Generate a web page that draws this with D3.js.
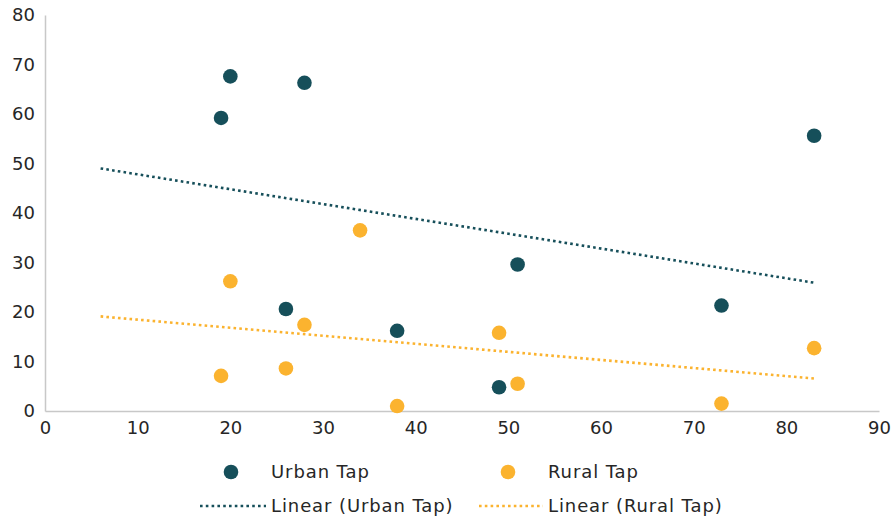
<!DOCTYPE html>
<html>
<head>
<meta charset="utf-8">
<script src="https://cdn.jsdelivr.net/npm/d3@7/dist/d3.min.js"></script>
<style>
  body { margin: 0; background: #fff; }
  svg { display: block; font-family: "DejaVu Sans", sans-serif; }
</style>
</head>
<body>
<svg id="chart" width="894" height="522"></svg>
<script>
// Survey points: x and y values for each series
const urbanX = [19, 20, 28, 26, 38, 49, 51, 73, 83];
const urbanY = [59.2, 67.6, 66.3, 20.6, 16.2, 4.8, 29.6, 21.3, 55.6];
const ruralX = [19, 20, 26, 28, 34, 38, 49, 51, 73, 83];
const ruralY = [7.1, 26.2, 8.6, 17.4, 36.5, 1.0, 15.8, 5.5, 1.5, 12.7];

const xTicks = [0, 10, 20, 30, 40, 50, 60, 70, 80, 90];
const yTicks = [0, 10, 20, 30, 40, 50, 60, 70, 80];
const seriesNames = ["Urban Tap", "Rural Tap"];
const trendNames = ["Linear (Urban Tap)", "Linear (Rural Tap)"];
const trendStart = 6; // trendlines are projected backwards to this x

const colors = { urban: "#164f5a", rural: "#fbb32f" };
const fontStack = "'DejaVu Sans', sans-serif";

const svg = d3.select("#chart");
const margin = { left: 45, right: 15, top: 15, bottom: 111 };
const W = 894, H = 522;

const x = d3.scaleLinear().domain([0, 90]).range([margin.left, W - margin.right]);
const y = d3.scaleLinear().domain([0, 80]).range([H - margin.bottom, margin.top]);

const textColor = "#262626";
const axisColor = "#c8c8c8";

// Axes (no tick marks, just labels and a light line)
const xAxis = svg.append("g")
  .attr("transform", `translate(0,${y(0)})`)
  .call(d3.axisBottom(x).tickValues(xTicks).tickSize(0).tickPadding(10));
const yAxis = svg.append("g")
  .attr("transform", `translate(${x(0)},0)`)
  .call(d3.axisLeft(y).tickValues(yTicks).tickSize(0).tickPadding(10));
[xAxis, yAxis].forEach(a => {
  a.select(".domain").attr("stroke", axisColor).attr("stroke-width", 1.5);
  a.selectAll("text").attr("fill", textColor).style("font-size", "18px")
    .style("font-family", fontStack);
});

// Least-squares linear fit
function fit(xs, ys) {
  const mx = d3.mean(xs), my = d3.mean(ys);
  let sxy = 0, sxx = 0;
  xs.forEach((v, i) => { sxy += (v - mx) * (ys[i] - my); sxx += (v - mx) ** 2; });
  const b = sxy / sxx;
  return v => my + b * (v - mx);
}

const line = d3.line().x(d => x(d[0])).y(d => y(d[1]));
function trend(xs, ys, color) {
  const f = fit(xs, ys);
  const x1 = d3.max(xs);
  svg.append("path")
    .datum([[trendStart, f(trendStart)], [x1, f(x1)]])
    .attr("d", line)
    .attr("fill", "none")
    .attr("stroke", color)
    .attr("stroke-width", 2.6)
    .attr("stroke-dasharray", "2.6 3.2");
}
trend(urbanX, urbanY, colors.urban);
trend(ruralX, ruralY, colors.rural);

function points(xs, ys, color) {
  svg.append("g").selectAll("circle")
    .data(xs.map((v, i) => [v, ys[i]]))
    .join("circle")
    .attr("cx", d => x(d[0]))
    .attr("cy", d => y(d[1]))
    .attr("r", 7.3)
    .attr("fill", color);
}
points(urbanX, urbanY, colors.urban);
points(ruralX, ruralY, colors.rural);

// Legend
const legend = svg.append("g")
  .style("font-size", "18px")
  .style("letter-spacing", "0.9px")
  .style("font-family", fontStack)
  .attr("fill", textColor);
const legendRows = [
  { kind: "dot", items: [[231, 271, seriesNames[0], colors.urban], [508, 548, seriesNames[1], colors.rural]], cy: 472 },
  { kind: "line", items: [[200, 271, trendNames[0], colors.urban], [479, 548, trendNames[1], colors.rural]], cy: 506 }
];
legendRows.forEach(row => {
  row.items.forEach(([mx, tx, label, c]) => {
    if (row.kind === "dot") {
      legend.append("circle").attr("cx", mx).attr("cy", row.cy).attr("r", 7.3).attr("fill", c);
    } else {
      legend.append("line").attr("x1", mx).attr("x2", tx - 5)
        .attr("y1", row.cy).attr("y2", row.cy)
        .attr("stroke", c).attr("stroke-width", 2.6).attr("stroke-dasharray", "2.6 3.2");
    }
    legend.append("text").attr("x", tx).attr("y", row.cy).attr("dy", "0.35em").text(label);
  });
});
</script>
</body>
</html>
